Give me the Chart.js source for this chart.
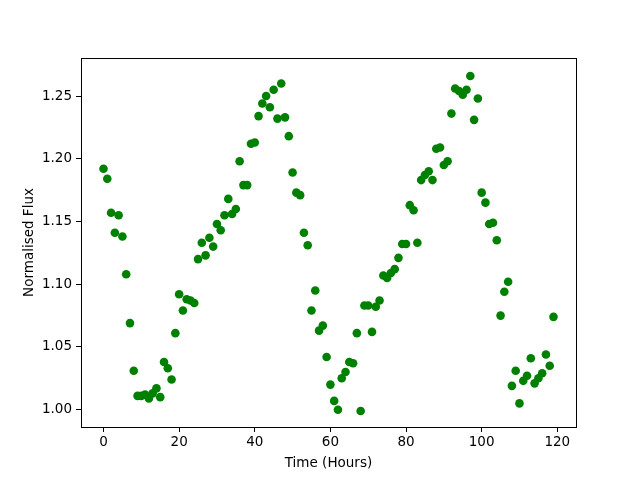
<!DOCTYPE html>
<html>
<head>
<meta charset="utf-8">
<script src="https://cdn.jsdelivr.net/npm/chart.js@4"></script>
<style>
  html, body { margin: 0; padding: 0; background: #fff; }
  #wrap { width: 640px; height: 480px; }
</style>
</head>
<body>
<div id="wrap"><canvas id="myChart" width="640" height="480"></canvas></div>
<script>
// hours since start of observation
var hours = [];
for (var i = 0; i < 120; i++) hours.push(i);

// normalised flux
var flux = [
  1.192, 1.184, 1.157, 1.141, 1.155, 1.138, 1.108, 1.069, 1.031, 1.011,
  1.011, 1.012, 1.009, 1.013, 1.017, 1.010, 1.038, 1.033, 1.024, 1.061,
  1.092, 1.079, 1.088, 1.087, 1.085, 1.120, 1.133, 1.123, 1.137, 1.130,
  1.148, 1.143, 1.155, 1.168, 1.156, 1.160, 1.198, 1.179, 1.179, 1.212,
  1.213, 1.234, 1.244, 1.250, 1.241, 1.255, 1.232, 1.260, 1.233, 1.218,
  1.189, 1.173, 1.171, 1.141, 1.131, 1.079, 1.095, 1.063, 1.067, 1.042,
  1.020, 1.007, 1.000, 1.025, 1.030, 1.038, 1.037, 1.061, 0.999, 1.083,
  1.083, 1.062, 1.082, 1.087, 1.107, 1.105, 1.109, 1.112, 1.121, 1.132,
  1.132, 1.163, 1.159, 1.133, 1.183, 1.187, 1.190, 1.183, 1.208, 1.209,
  1.195, 1.198, 1.236, 1.256, 1.254, 1.251, 1.255, 1.266, 1.231, 1.248,
  1.173, 1.165, 1.148, 1.149, 1.135, 1.075, 1.094, 1.102, 1.019, 1.031,
  1.005, 1.023, 1.027, 1.041, 1.021, 1.025, 1.029, 1.044, 1.035, 1.074
];

var xTicks = [0, 20, 40, 60, 80, 100, 120];
var yTicks = [1.00, 1.05, 1.10, 1.15, 1.20, 1.25];

var points = hours.map(function (h, i) { return { x: h, y: flux[i] }; });

// full box around the plot area like matplotlib
var frame = {
  id: 'frame',
  afterDraw: function (chart) {
    var a = chart.chartArea, c = chart.ctx;
    c.save();
    c.strokeStyle = '#000';
    c.lineWidth = 1;
    c.strokeRect(Math.round(a.left) + 0.5, Math.round(a.top) + 0.5,
      Math.round(a.right - a.left), Math.round(a.bottom - a.top));
    c.restore();
  }
};

var font = { family: 'DejaVu Sans', size: 13.5 };

var ctx = document.getElementById('myChart').getContext('2d');
var myChart = new Chart(ctx, {
  type: 'scatter',
  data: {
    datasets: [{
      data: points,
      backgroundColor: '#008000',
      borderColor: '#008000',
      pointRadius: 4.3,
      pointHoverRadius: 4.3,
      borderWidth: 0
    }]
  },
  options: {
    responsive: false,
    animation: false,
    layout: { padding: { left: 17, top: 58, right: 64, bottom: 4 } },
    plugins: { legend: { display: false }, tooltip: { enabled: false } },
    scales: {
      x: {
        type: 'linear',
        min: -5.95,
        max: 124.95,
        afterBuildTicks: function (s) { s.ticks = xTicks.map(function (v) { return { value: v }; }); },
        afterFit: function (s) { s.height = 49; },
        ticks: { color: '#000', font: font, padding: 2, maxRotation: 0,
          callback: function (v) { return String(v); } },
        grid: { drawOnChartArea: false, drawTicks: true, tickLength: 5, color: '#000' },
        border: { display: false },
        title: { display: true, text: 'Time (Hours)', color: '#000', font: font, padding: { top: 0 } }
      },
      y: {
        type: 'linear',
        min: 0.9862,
        max: 1.2803,
        afterBuildTicks: function (s) { s.ticks = yTicks.map(function (v) { return { value: v }; }); },
        afterFit: function (s) { s.width = 64; },
        ticks: { color: '#000', font: font, padding: 4,
          callback: function (v) { return v.toFixed(2); } },
        grid: { drawOnChartArea: false, drawTicks: true, tickLength: 5, color: '#000' },
        border: { display: false },
        title: { display: true, text: 'Normalised Flux', color: '#000', font: font, padding: { bottom: 2 } }
      }
    }
  },
  plugins: [frame]
});
</script>
</body>
</html>
